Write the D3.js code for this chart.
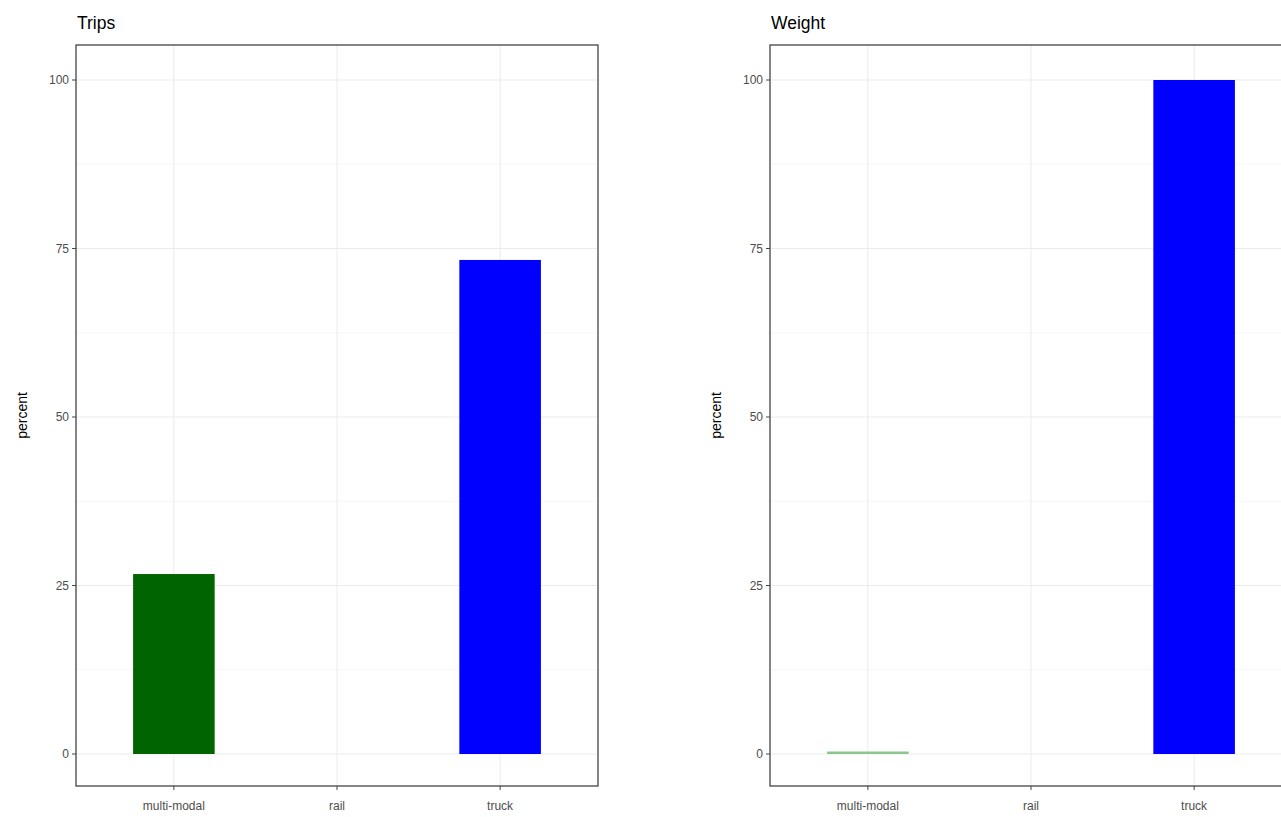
<!DOCTYPE html>
<html><head><meta charset="utf-8">
<script src="https://cdn.jsdelivr.net/npm/d3@7"></script>
<style>body{margin:0;background:#fff;} svg{display:block;font-family:"Liberation Sans",Arial,sans-serif;}</style>
</head><body>
<svg id="c" width="1281" height="817"></svg>
<script>
const categories = ["multi-modal", "rail", "truck"];
const tripsValues = [26.7, 0, 73.3];
const weightValues = [0.3, 0, 100];
const tripsColors = ["#006400", "#006400", "#0000ff"];
const weightColors = ["#8cc68c", "#8cc68c", "#0000ff"];
const yTicks = [0, 25, 50, 75, 100];
const yMinor = [12.5, 37.5, 62.5, 87.5];

const svg = d3.select("#c");

function panel(left, title, values, colors) {
  const top = 45, bottom = 786, width = 522;
  const g = svg.append("g");
  const y = d3.scaleLinear().domain([0, 100]).range([754, 80]);
  const xp = d3.scaleLinear().domain([0.4, 3.6]).range([left, left + width]);
  const x = c => xp(categories.indexOf(c) + 1);

  g.append("rect").attr("x", left).attr("y", top).attr("width", width).attr("height", bottom - top).attr("fill", "#fff");
  g.selectAll(".ymin").data(yMinor).join("line")
    .attr("x1", left).attr("x2", left + width).attr("y1", d => y(d)).attr("y2", d => y(d))
    .attr("stroke", "#f4f4f4").attr("stroke-width", 0.8);
  g.selectAll(".ymaj").data(yTicks).join("line")
    .attr("x1", left).attr("x2", left + width).attr("y1", d => y(d)).attr("y2", d => y(d))
    .attr("stroke", "#ebebeb").attr("stroke-width", 1);
  g.selectAll(".xmaj").data(categories).join("line")
    .attr("x1", d => x(d)).attr("x2", d => x(d)).attr("y1", top).attr("y2", bottom)
    .attr("stroke", "#ebebeb").attr("stroke-width", 1);

  const bw = xp(1.25) - xp(0.75);
  g.selectAll(".bar").data(categories.map((c, i) => ({c, v: values[i], col: colors[i]})).filter(d => d.v > 0)).join("rect")
    .attr("x", d => x(d.c) - bw / 2).attr("width", bw)
    .attr("y", d => Math.min(y(d.v), y(0) - 2.5)).attr("height", d => Math.max(y(0) - y(d.v), 2.5))
    .attr("fill", d => d.col);

  g.append("rect").attr("x", left).attr("y", top).attr("width", width).attr("height", bottom - top)
    .attr("fill", "none").attr("stroke", "#444").attr("stroke-width", 1.3);

  g.selectAll(".yt").data(yTicks).join("line")
    .attr("x1", left - 4).attr("x2", left).attr("y1", d => y(d)).attr("y2", d => y(d))
    .attr("stroke", "#444").attr("stroke-width", 1);
  g.selectAll(".yl").data(yTicks).join("text")
    .attr("x", left - 7).attr("y", d => y(d)).attr("dy", "0.35em").attr("text-anchor", "end")
    .attr("font-size", 12).attr("fill", "#4d4d4d").text(d => d);
  g.selectAll(".xt").data(categories).join("line")
    .attr("x1", d => x(d)).attr("x2", d => x(d)).attr("y1", bottom).attr("y2", bottom + 4)
    .attr("stroke", "#444").attr("stroke-width", 1);
  g.selectAll(".xl").data(categories).join("text")
    .attr("x", d => x(d)).attr("y", bottom + 24).attr("text-anchor", "middle")
    .attr("font-size", 12).attr("fill", "#4d4d4d").text(d => d);

  g.append("text").attr("transform", `translate(${left - 54},${(top + bottom) / 2}) rotate(-90)`)
    .attr("text-anchor", "middle").attr("dy", "0.35em").attr("font-size", 14).attr("fill", "#000").text("percent");
  g.append("text").attr("x", left + 1).attr("y", 29).attr("font-size", 17.5).attr("fill", "#000").text(title);
}

panel(76, "Trips", tripsValues, tripsColors);
panel(770, "Weight", weightValues, weightColors);
</script>
</body></html>
